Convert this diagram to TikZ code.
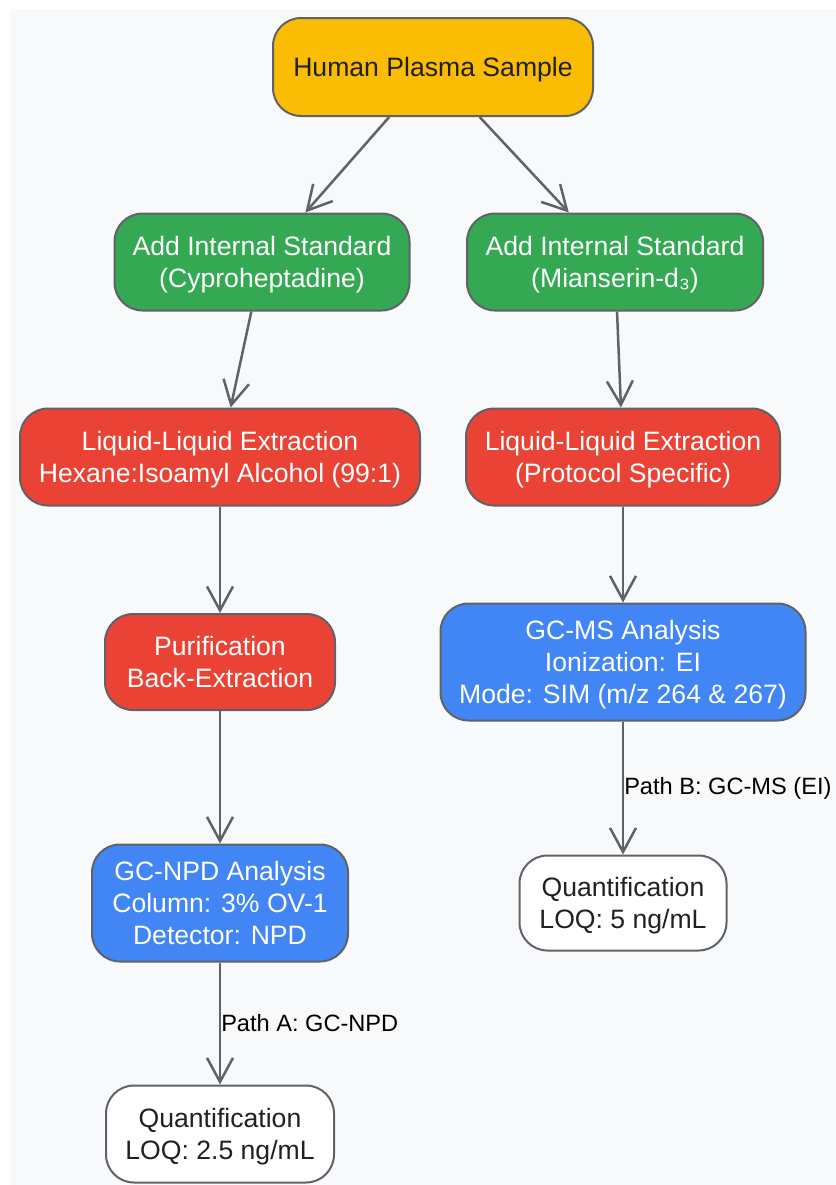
\documentclass[tikz,border=0pt]{standalone}
\usepackage{fontspec}
\setmainfont{Liberation Sans}
\usetikzlibrary{arrows.meta,positioning}
\definecolor{bgpage}{HTML}{F8F9FA}
\definecolor{edgegray}{HTML}{5F6368}
\definecolor{txtdark}{HTML}{202124}
\definecolor{gyellow}{HTML}{FBBC04}
\definecolor{ggreen}{HTML}{34A853}
\definecolor{gred}{HTML}{EA4335}
\definecolor{gblue}{HTML}{4285F4}
\tikzset{
    stepbox/.style={draw=edgegray, line width=1pt, rounded corners=14pt,
        align=center, inner sep=0pt, text depth=0pt,
        font=\fontsize{13.3}{16}\selectfont},
    startbox/.style={stepbox, fill=gyellow, text=txtdark},
    stdbox/.style={stepbox, fill=ggreen, text=white},
    extrbox/.style={stepbox, fill=gred, text=white},
    gcbox/.style={stepbox, fill=gblue, text=white},
    resbox/.style={stepbox, fill=white, text=txtdark},
    flow/.style={draw=edgegray, line width=1.25pt,
        -{Straight Barb[length=12pt, width=13pt, line width=1.25pt]}},
    pathlabel/.style={anchor=west, inner sep=0pt, text=black,
        font=\fontsize{11.8}{14}\selectfont}
}
\begin{document}
\begin{tikzpicture}[x=0.5pt, y=-0.5pt]
    \useasboundingbox (0,0) rectangle (836,1185);
    \fill[white] (0,0) rectangle (836,1185);
    \fill[bgpage] (10,9) rectangle (836,1185);
    \node[startbox, minimum width=160pt, minimum height=49pt] (sample) at (433, 67) {Human Plasma Sample};
    \node[stdbox, minimum width=147.5pt, minimum height=48.5pt] (isa) at (262, 262) {Add Internal Standard\\(Cyproheptadine)};
    \node[stdbox, minimum width=148pt, minimum height=48.5pt] (isb) at (615, 262) {Add Internal Standard\\(Mianserin-d₃)};
    \node[extrbox, minimum width=200pt, minimum height=48.5pt] (llea) at (220, 457) {Liquid-Liquid Extraction\\Hexane:Isoamyl Alcohol (99:1)};
    \node[extrbox, minimum width=157pt, minimum height=48.5pt] (lleb) at (623, 457) {Liquid-Liquid Extraction\\(Protocol Specific)};
    \node[extrbox, minimum width=115pt, minimum height=48pt] (purif) at (220, 662) {Purification\\Back-Extraction};
    \node[gcbox, minimum width=182.5pt, minimum height=58.5pt] (gcms) at (623, 662) {GC-MS Analysis\\Ionization: EI\\Mode: SIM (m/z 264 \& 267)};
    \node[gcbox, minimum width=128pt, minimum height=58.5pt] (gcnpd) at (220, 903) {GC-NPD Analysis\\Column: 3\% OV-1\\Detector: NPD};
    \node[resbox, minimum width=103.5pt, minimum height=47.5pt] (quantb) at (623, 903) {Quantification\\LOQ: 5 ng/mL};
    \node[resbox, minimum width=114pt, minimum height=48.5pt] (quanta) at (220, 1134) {Quantification\\LOQ: 2.5 ng/mL};
    \draw[flow] (sample) -- (isa);
    \draw[flow] (sample) -- (isb);
    \draw[flow] (isa) -- (llea);
    \draw[flow] (isb) -- (lleb);
    \draw[flow] (llea) -- (purif);
    \draw[flow] (lleb) -- (gcms);
    \draw[flow] (purif) -- (gcnpd);
    \draw[flow] (gcms) -- node[pathlabel] (labb) {Path B: GC-MS (EI)} (quantb);
    \draw[flow] (gcnpd) -- node[pathlabel] (laba) {Path A: GC-NPD} (quanta);
\end{tikzpicture}
\end{document}
